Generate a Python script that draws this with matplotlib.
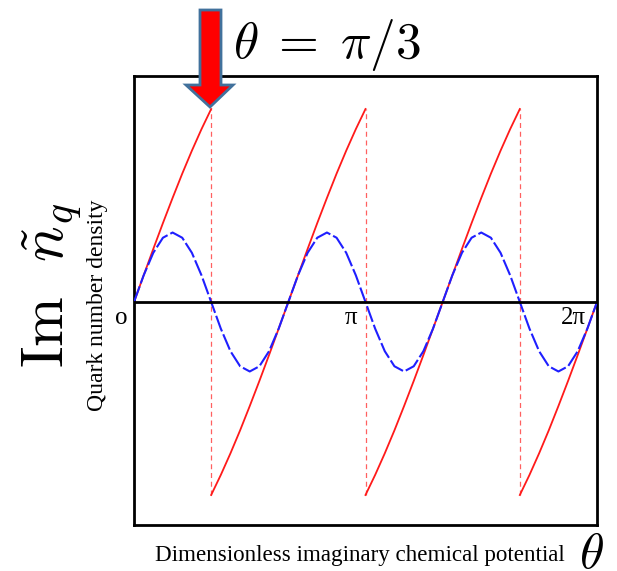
import numpy as np
import matplotlib
matplotlib.use("Agg")
import matplotlib.pyplot as plt
from matplotlib.patches import Polygon

plt.rcParams['mathtext.fontset'] = 'cm'

# theta grid in units of pi/24, from 0 to 2pi
theta_steps = list(range(0, 49))

# blue dashed curve (red maximum = 1)
blue_vals = [0.0, 0.138, 0.255, 0.333, 0.36, 0.333, 0.255, 0.138,
             0.0, -0.138, -0.255, -0.333, -0.36, -0.333, -0.255, -0.138,
             0.0, 0.138, 0.255, 0.333, 0.36, 0.333, 0.255, 0.138,
             0.0, -0.138, -0.255, -0.333, -0.36, -0.333, -0.255, -0.138,
             0.0, 0.138, 0.255, 0.333, 0.36, 0.333, 0.255, 0.138,
             0.0, -0.138, -0.255, -0.333, -0.36, -0.333, -0.255, -0.138,
             0.0]

# red branches, each starts at a step of the grid
red_branch_1 = [0.0, 0.138, 0.275, 0.409, 0.539, 0.665, 0.784, 0.896, 1.0]
red_branch_2 = [-1.0, -0.896, -0.784, -0.665, -0.539, -0.409, -0.275, -0.138,
                0.0, 0.138, 0.275, 0.409, 0.539, 0.665, 0.784, 0.896, 1.0]
red_branch_3 = [-1.0, -0.896, -0.784, -0.665, -0.539, -0.409, -0.275, -0.138,
                0.0, 0.138, 0.275, 0.409, 0.539, 0.665, 0.784, 0.896, 1.0]
red_branch_4 = [-1.0, -0.896, -0.784, -0.665, -0.539, -0.409, -0.275, -0.138, 0.0]
red_starts = [0, 8, 24, 40]

# jumps (theta in units of pi/3)
jump_positions = [1, 3, 5]

tick_labels = ["o", "π", "2π"]
tick_pos = [-0.17, 2.945, 5.965]

W, H = 617, 571
fig = plt.figure(figsize=(W / 100, H / 100), dpi=100)
ax = fig.add_axes([134 / W, (H - 525) / H, (597 - 134) / W, (525 - 76) / H])

theta = np.array(theta_steps) * np.pi / 24

# vertical dashed lines at the jumps
for j in jump_positions:
    ax.plot([j * np.pi / 3] * 2, [-1.0, 1.0], color='#ff6060', lw=0.9,
            ls=(0, (4, 3)), zorder=1)

for start, vals in zip(red_starts, [red_branch_1, red_branch_2, red_branch_3, red_branch_4]):
    th = theta[start:start + len(vals)]
    ax.plot(th, vals, color='#ff1a1a', lw=1.3, zorder=2)

ax.plot(theta, blue_vals, color='#1f1fff', lw=1.5, ls=(0, (8, 1.5)), zorder=3)

ax.axhline(0, color='black', lw=2, zorder=4)

ax.set_xlim(0, 2 * np.pi)
ax.set_ylim(-223 / 193, 226 / 193)
ax.set_xticks([])
ax.set_yticks([])
for s in ax.spines.values():
    s.set_linewidth(2)

serif = 'Liberation Serif'
for lab, pos in zip(tick_labels, tick_pos):
    ax.text(pos, -0.085, lab, ha='center', va='center', fontsize=18,
            family=serif, clip_on=False)

# axis labels
fig.text(52 / W, 1 - 285 / H, r'$\mathrm{Im}\ \ \tilde{n}_q$', rotation=90,
         ha='center', va='center', fontsize=43)
fig.text(97 / W, 1 - 305 / H, 'Quark number density', rotation=90,
         ha='center', va='center', fontsize=17, family=serif)
fig.text(360 / W, 1 - 555 / H, 'Dimensionless imaginary chemical potential',
         ha='center', va='center', fontsize=16.6, family=serif)
fig.text(591 / W, 1 - 568 / H, r'$\theta$', ha='center', va='baseline', fontsize=36)

# title
fig.text(327 / W, 1 - 45 / H, r'$\theta\;=\;\pi/3$', ha='center', va='center', fontsize=37)

# red arrow pointing to theta = pi/3
arrow_px = [(200, 10), (221, 10), (221, 85), (233, 85), (210, 107),
            (186, 85), (200, 85)]
arrow = Polygon([(x / W, 1 - y / H) for x, y in arrow_px], closed=True,
                transform=fig.transFigure, facecolor='#ff0000',
                edgecolor='#41719c', lw=2, zorder=10)
fig.patches.append(arrow)

fig.savefig('out.png', dpi=100)
